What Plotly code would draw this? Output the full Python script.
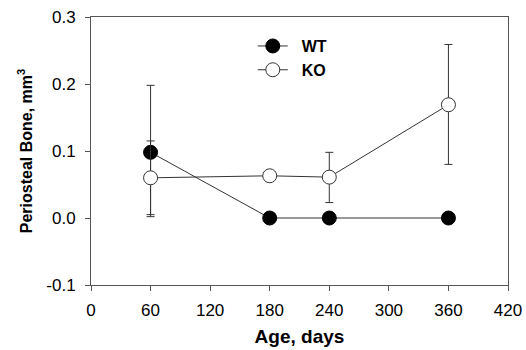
import plotly.graph_objects as go

ages = [60, 180, 240, 360]
wt_vals = [0.098, 0.0, 0.0, 0.0]
wt_err_plus = [0.1, 0, 0, 0]
wt_err_minus = [0.096, 0, 0, 0]
ko_vals = [0.06, 0.063, 0.061, 0.169]
ko_err_plus = [0.055, 0.006, 0.037, 0.09]
ko_err_minus = [0.055, 0.006, 0.038, 0.089]
x_ticks = [0, 60, 120, 180, 240, 300, 360, 420]
y_ticks = [-0.1, 0.0, 0.1, 0.2, 0.3]
y_tick_labels = ["-0.1", "0.0", "0.1", "0.2", "0.3"]

line_col = "#333333"
axis_col = "#555555"
font = "Liberation Sans, Arial, sans-serif"

fig = go.Figure()
fig.add_trace(go.Scatter(
    x=ages, y=wt_vals, name="\u00a0\u00a0<b>WT</b>", mode="lines+markers",
    line=dict(color=line_col, width=1),
    marker=dict(size=14, color="black", line=dict(color="black", width=1)),
    error_y=dict(type="data", array=wt_err_plus, arrayminus=wt_err_minus,
                 color=line_col, thickness=1, width=4),
))
fig.add_trace(go.Scatter(
    x=ages, y=ko_vals, name="\u00a0\u00a0<b>KO</b>", mode="lines+markers",
    line=dict(color=line_col, width=1),
    marker=dict(size=14, color="white", line=dict(color=line_col, width=1)),
    error_y=dict(type="data", array=ko_err_plus, arrayminus=ko_err_minus,
                 color=line_col, thickness=1, width=4),
))

fig.update_layout(
    width=526, height=350,
    margin=dict(l=91, r=18, t=17, b=65),
    paper_bgcolor="white", plot_bgcolor="white",
    font=dict(family=font, size=16, color="black"),
    showlegend=True,
    legend=dict(x=0.388, y=0.955, xanchor="left", yanchor="top",
                bgcolor="rgba(0,0,0,0)", font=dict(size=16, color="black"),
                tracegroupgap=0, itemwidth=30),
    xaxis=dict(range=[0, 420], tickvals=x_ticks, showgrid=False, zeroline=False,
               showline=True, linecolor=axis_col, linewidth=1, mirror=True,
               ticks="outside", ticklen=5, tickcolor=axis_col, automargin=False,
               tickfont=dict(size=17), ticklabelstandoff=5,
               title=dict(text="<b>Age, days</b>", font=dict(size=19), standoff=10)),
    yaxis=dict(range=[-0.1, 0.3], tickvals=y_ticks, ticktext=y_tick_labels,
               showgrid=False, zeroline=False, automargin=False,
               showline=True, linecolor=axis_col, linewidth=1, mirror=True,
               ticks="outside", ticklen=5, tickcolor=axis_col,
               tickfont=dict(size=17), ticklabelstandoff=6,
               title=dict(text="<b>Periosteal Bone, mm<sup>3</sup></b>", font=dict(size=16), standoff=9)),
)

fig.write_html("out.html", config={"displayModeBar": False},
               post_script="document.body.style.margin='0';")
